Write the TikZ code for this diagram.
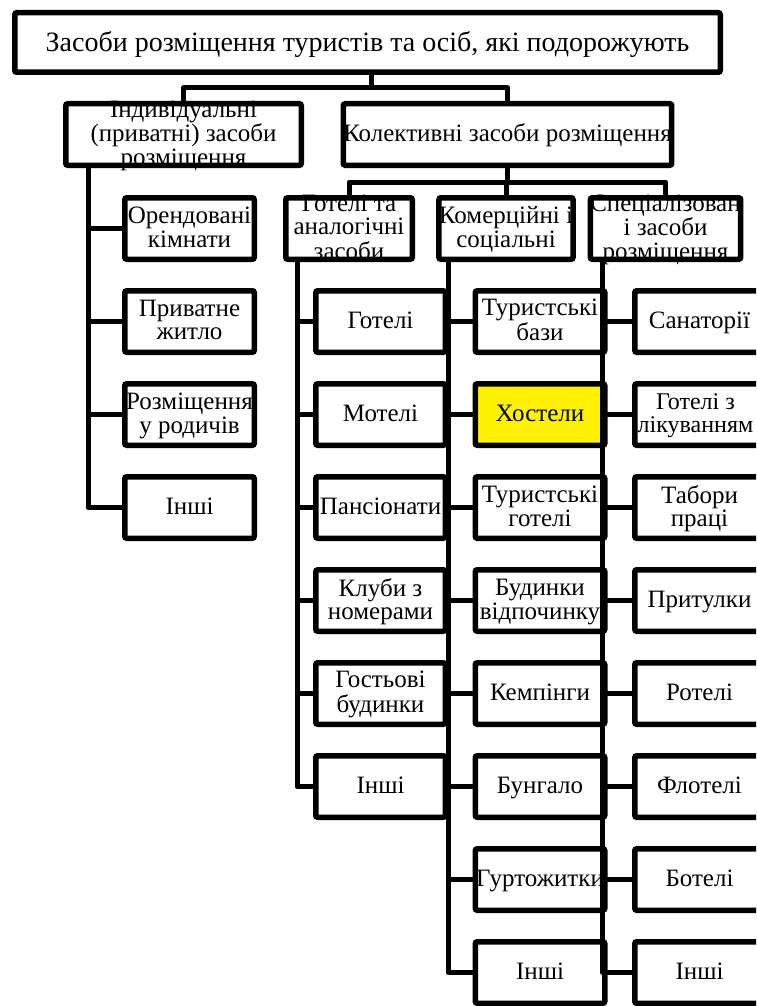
\documentclass[tikz,border=0pt]{standalone}
\usepackage{fontspec}
\setmainfont{Liberation Serif}
\newfontfamily\tnr{Liberation Serif}
\newcommand{\btxt}[1]{\raisebox{-0.33em}[0pt][0pt]{\begin{tabular}{@{}c@{}}#1\end{tabular}}}
\begin{document}
\begin{tikzpicture}[x=1pt,y=1pt,
  frame/.style={draw=black,line width=5.5pt,rounded corners=2pt},
  conn/.style={draw=black,line width=5pt,line join=round},
  box/.style={inner sep=0pt,outer sep=0pt,minimum height=61.5pt,font=\tnr\fontsize{25}{23.5}\selectfont},
  kid/.style={box,minimum width=129.5pt},
  hl/.style={fill=yellow}]
\useasboundingbox (0,0) rectangle (756,-1006);
\clip (0,0) rectangle (756,-1006);
% headers
\node[box,minimum width=705.5pt,minimum height=59.5pt,font=\tnr\fontsize{28}{28}\selectfont] (top) at (367.5,-42.5) {\btxt{Засоби розміщення туристів та осіб, які подорожують}};
\node[box,minimum width=235.5pt] (ind) at (183.5,-134.5) {\btxt{Індивідуальні\\(приватні) засоби\\розміщення}};
\node[box,minimum width=325.5pt] (col) at (507.5,-134.5) {\btxt{Колективні засоби розміщення}};
\node[box,minimum width=126.5pt] (hot) at (349,-228.5) {\btxt{Готелі та\\аналогічні\\засоби}};
\node[box,minimum width=122.5pt] (com) at (506,-228.5) {\btxt{Комерційні і\\соціальні}};
\node[box,minimum width=129.5pt] (spe) at (665.5,-228.5) {\btxt{Спеціалізован\\і засоби\\розміщення}};
% individual
\node[kid] (i0) at (189.5,-228.5) {\btxt{Орендовані\\кімнати}};
\node[kid] (i1) at (189.5,-321.5) {\btxt{Приватне\\житло}};
\node[kid] (i2) at (189.5,-414.5) {\btxt{Розміщення\\у родичів}};
\node[kid] (i3) at (189.5,-507.5) {\btxt{Інші}};
% hotels
\node[kid] (h1) at (380.5,-321.5) {\btxt{Готелі}};
\node[kid] (h2) at (380.5,-414.5) {\btxt{Мотелі}};
\node[kid] (h3) at (380.5,-507.5) {\btxt{Пансіонати}};
\node[kid] (h4) at (380.5,-600.5) {\btxt{Клуби з\\номерами}};
\node[kid] (h5) at (380.5,-693.5) {\btxt{Гостьові\\будинки}};
\node[kid] (h6) at (380.5,-786.5) {\btxt{Інші}};
% commercial
\node[kid] (c1) at (540,-321.5) {\btxt{Туристські\\бази}};
\node[kid,hl] (c2) at (540,-414.5) {\btxt{Хостели}};
\node[kid] (c3) at (540,-507.5) {\btxt{Туристські\\готелі}};
\node[kid] (c4) at (540,-600.5) {\btxt{Будинки\\відпочинку}};
\node[kid] (c5) at (540,-693.5) {\btxt{Кемпінги}};
\node[kid] (c6) at (540,-786.5) {\btxt{Бунгало}};
\node[kid] (c7) at (540,-879.5) {\btxt{Гуртожитки}};
\node[kid] (c8) at (540,-972.5) {\btxt{Інші}};
% specialised
\node[kid] (s1) at (699.5,-321.5) {\btxt{Санаторії}};
\node[kid,font=\tnr\fontsize{24}{23.5}\selectfont] (s2) at (699.5,-414.5) {\hspace*{-8pt}\btxt{Готелі з\\лікуванням}};
\node[kid] (s3) at (699.5,-507.5) {\btxt{Табори\\праці}};
\node[kid] (s4) at (699.5,-600.5) {\btxt{Притулки}};
\node[kid] (s5) at (699.5,-693.5) {\btxt{Ротелі}};
\node[kid] (s6) at (699.5,-786.5) {\btxt{Флотелі}};
\node[kid] (s7) at (699.5,-879.5) {\btxt{Ботелі}};
\node[kid] (s8) at (699.5,-972.5) {\btxt{Інші}};
% connectors
\draw[conn] ([xshift=4pt]top.south) -- ++(0,-15.75);
\draw[conn] (ind.north) -- ++(0,15.75) -| (col.north);
\draw[conn] (col.south) -- ++(0,-16.75);
\draw[conn] (hot.north) -- ++(0,15.75) -| (spe.north);
\draw[conn] (com.north) -- ++(0,15.75);
\foreach \k in {0,...,3} \draw[conn] ([xshift=22.25pt]ind.south west) |- (i\k.west);
\foreach \k in {1,...,6} \draw[conn] ([xshift=11.25pt]hot.south west) |- (h\k.west);
\foreach \k in {1,...,8} \draw[conn] ([xshift=9.25pt]com.south west) |- (c\k.west);
\foreach \k in {1,...,8} \draw[conn] ([xshift=12.25pt]spe.south west) |- (s\k.west);
% frames
\foreach \n in {top,ind,col,hot,com,spe,i0,i1,i2,i3,h1,h2,h3,h4,h5,h6,c1,c2,c3,c4,c5,c6,c7,c8,s1,s2,s3,s4,s5,s6,s7,s8}
  \draw[frame] (\n.north west) rectangle (\n.south east);
\end{tikzpicture}
\end{document}
